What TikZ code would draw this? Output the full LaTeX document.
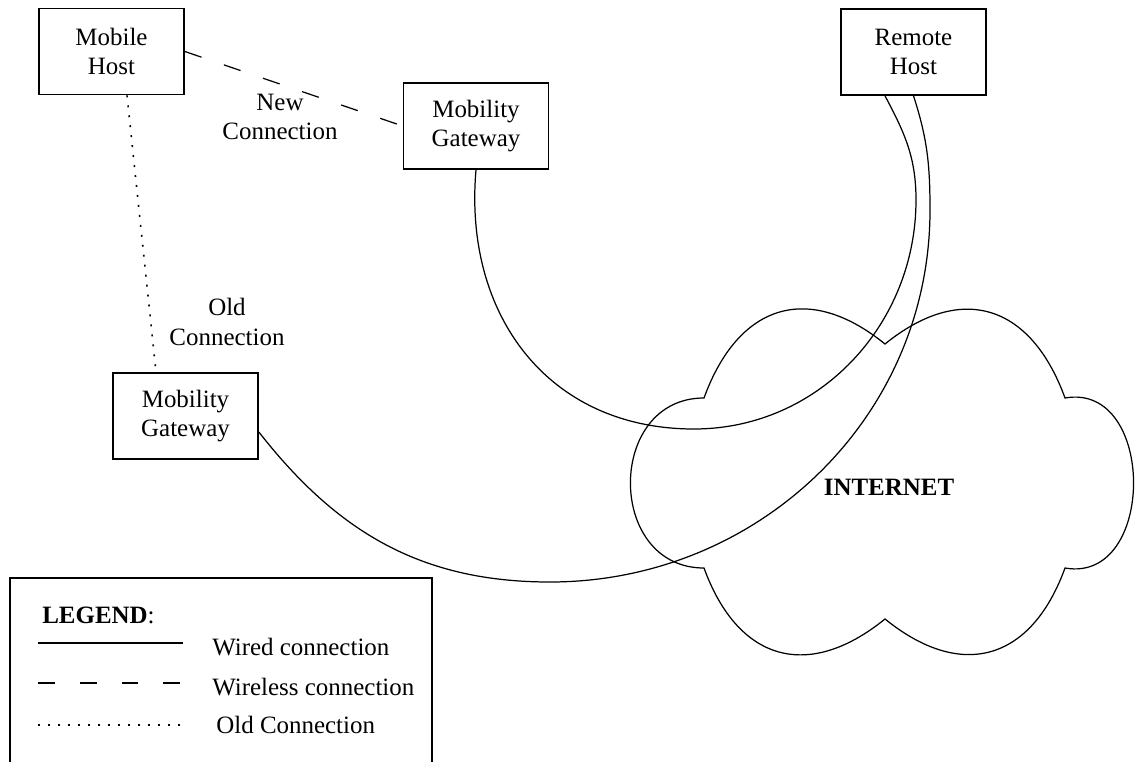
\documentclass[tikz,border=0pt]{standalone}
\usepackage{fontspec}
\setmainfont{Liberation Serif}

\begin{document}
\begin{tikzpicture}[x=0.02cm,y=0.02cm,font=\fontsize{14.2}{17}\selectfont,
    host/.style={draw,line width=1pt,minimum width=2.9cm,minimum height=1.72cm,align=center,inner sep=0pt},
    wired/.style={line width=0.7pt},
    wireless/.style={line width=0.7pt,dash pattern=on 10pt off 13.5pt},
    oldlink/.style={line width=0.9pt,dash pattern=on 1.1pt off 4.6pt},
    lbl/.style={align=center,inner sep=0pt},
    lgtext/.style={anchor=west,inner sep=0pt}]
    \useasboundingbox (0,0) rectangle (1136,762);

    \node[host] (mh) at (111.5,710.5) {Mobile\\Host};
    \node[host] (rh) at (913.5,710) {Remote\\Host};
    \node[host] (mgnew) at (476,636) {Mobility\\Gateway};
    \node[host] (mgold) at (185.5,346) {Mobility\\Gateway};
    \node[lbl] (newc) at (280,645) {New\\Connection};
    \node[lbl] (oldc) at (227,440) {Old\\Connection};
    \node[lbl,font=\fontsize{14.2}{17}\selectfont\bfseries] (inet) at (889,275) {INTERNET};

    \coordinate (a1) at (694,333);
    \coordinate (a2) at (916,562);
    \coordinate (b1) at (550,180);
    \coordinate (b2) at (930,552);

    % cloud
    \draw[wired] (704,364) to[out=70,in=141,looseness=1.35] (885,418)
        to[out=39,in=110,looseness=1.35] (1065,364)
        to[out=10,in=-10,looseness=1.4] (1065,194)
        to[out=-110,in=-39,looseness=1.35] (885,143)
        to[out=-141,in=-70,looseness=1.35] (704,194)
        to[out=180,in=180,looseness=1.48] cycle;

    \draw[wireless] (mh.east) -- (mgnew.west);
    \draw[oldlink] ([xshift=0.31cm]mh.south) -- ([xshift=-0.59cm]mgold.north);
    \draw[wired] (mgnew.south) to[out=-95,in=180,looseness=1.1] (a1)
        to[out=0,in=-90] (a2) to[out=90,in=-62] ([xshift=-0.57cm]rh.south);
    \draw[wired] ([yshift=-0.32cm]mgold.east) to[out=-52,in=180] (b1)
        to[out=0,in=-90] (b2) to[out=90,in=-72] (rh.south);

    % legend
    \draw[line width=1pt] (10,0) -- (10,184) -- (432,184) -- (432,0);
    \node[lgtext] (lgd) at (42,147) {\textbf{LEGEND}:};
    \coordinate (w1) at (38,119); \coordinate (w2) at (183,119);
    \coordinate (d1) at (38,79); \coordinate (d2) at (183,79);
    \coordinate (o1) at (38,37); \coordinate (o2) at (183,37);
    \draw[wired,line width=0.9pt] (w1) -- (w2);
    \draw[wireless,dash pattern=on 9.6pt off 14.2pt] (d1) -- (d2);
    \draw[oldlink,dash pattern=on 1.1pt off 4.6pt] (o1) -- (o2);
    \node[lgtext] (lw) at (212,115) {Wired connection};
    \node[lgtext] (ld) at (212,75) {Wireless connection};
    \node[lgtext] (lo) at (216,37) {Old Connection};
\end{tikzpicture}
\end{document}
